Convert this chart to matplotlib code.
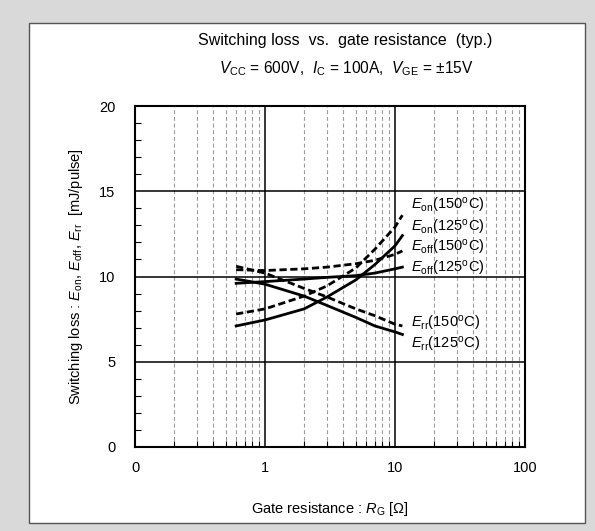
import matplotlib
matplotlib.use("Agg")
import matplotlib.pyplot as plt
from matplotlib.patches import Rectangle
from matplotlib.ticker import FixedLocator, NullFormatter
import numpy as np

plt.rcParams['font.family'] = ['Liberation Sans', 'DejaVu Sans']
plt.rcParams['mathtext.fontset'] = 'custom'
plt.rcParams['mathtext.rm'] = 'Liberation Sans'
plt.rcParams['mathtext.it'] = 'Liberation Sans:italic'
plt.rcParams['mathtext.bf'] = 'Liberation Sans:bold'

# ---- data ----
rg = [0.6, 1, 2, 3, 5, 7, 10, 11.4]
eon_150 = [7.8, 8.1, 8.85, 9.45, 10.5, 11.6, 12.9, 13.6]
eon_125 = [7.1, 7.45, 8.1, 8.8, 9.8, 10.7, 11.8, 12.4]
eoff_150 = [10.4, 10.35, 10.45, 10.55, 10.75, 10.95, 11.3, 11.5]
eoff_125 = [9.6, 9.7, 9.85, 9.95, 10.05, 10.2, 10.45, 10.55]
err_150 = [10.6, 10.2, 9.3, 8.8, 8.1, 7.7, 7.2, 7.1]
err_125 = [9.85, 9.55, 8.85, 8.3, 7.6, 7.1, 6.75, 6.6]

labels = [r"$\mathit{E}_{\mathrm{on}}$(150$^{\mathrm{o}}$C)",
          r"$\mathit{E}_{\mathrm{on}}$(125$^{\mathrm{o}}$C)",
          r"$\mathit{E}_{\mathrm{off}}$(150$^{\mathrm{o}}$C)",
          r"$\mathit{E}_{\mathrm{off}}$(125$^{\mathrm{o}}$C)",
          r"$\mathit{E}_{\mathrm{rr}}$(150$^{\mathrm{o}}$C)",
          r"$\mathit{E}_{\mathrm{rr}}$(125$^{\mathrm{o}}$C)"]
label_y = [14.15, 12.9, 11.7, 10.45, 7.25, 6.0]
label_x = 13.3

xticks = [0.1, 1, 10, 100]
xticklabels = ["0", "1", "10", "100"]
yticks = [0, 5, 10, 15, 20]

W, H = 595, 531
fig = plt.figure(figsize=(W / 100, H / 100), dpi=100, facecolor='#d9d9d9')
fig.patches.append(Rectangle((29 / W, 1 - 523 / H), (585 - 29) / W, (523 - 23) / H,
                             transform=fig.transFigure, facecolor='white',
                             edgecolor='#555555', lw=1.0, zorder=-5))

ax = fig.add_axes([135 / W, 1 - 447 / H, (525 - 135) / W, (447 - 106) / H])
ax.set_facecolor('none')
ax.set_xscale('log')
ax.set_xlim(0.1, 100)
ax.set_ylim(0, 20)

minor_x = [m * d for d in (0.1, 1, 10) for m in range(2, 10)]
for xv in minor_x:
    ax.axvline(xv, color='#9a9a9a', lw=0.8, ls=(0, (3.5, 2.5)), zorder=1)
for xv in [1, 10]:
    ax.axvline(xv, color='black', lw=1.1, zorder=2)
for yv in [5, 10, 15]:
    ax.axhline(yv, color='black', lw=1.1, zorder=2)

dash = (0, (2.6, 1.3))
kw = dict(color='black', lw=2.0, zorder=3)
ax.plot(rg, eon_150, ls=dash, **kw)
ax.plot(rg, eon_125, ls='-', **kw)
ax.plot(rg, eoff_150, ls=dash, **kw)
ax.plot(rg, eoff_125, ls='-', **kw)
ax.plot(rg, err_150, ls=dash, **kw)
ax.plot(rg, err_125, ls='-', **kw)

for t, yv in zip(labels, label_y):
    ax.text(label_x, yv, t, fontsize=10.5, va='center', ha='left', zorder=4)

ax.xaxis.set_major_locator(FixedLocator(xticks))
ax.set_xticklabels(xticklabels, fontsize=10.5)
ax.xaxis.set_minor_locator(FixedLocator(minor_x))
ax.xaxis.set_minor_formatter(NullFormatter())
ax.set_yticks(yticks)
ax.set_yticklabels([str(v) for v in yticks], fontsize=10.5)
ax.yaxis.set_minor_locator(FixedLocator(list(range(0, 21))))
ax.tick_params(which='both', direction='in', top=False, right=False)
ax.tick_params(which='major', length=0, pad=10)
ax.tick_params(which='minor', length=4, width=0.8)
ax.tick_params(axis='y', which='major', pad=14)
for s in ax.spines.values():
    s.set_linewidth(1.5)

ax.set_xlabel(r"Gate resistance : $\mathit{R}_{\mathrm{G}}$ [$\mathrm{\Omega}$]", fontsize=10.5, labelpad=18)
ax.set_ylabel(r"Switching loss : $\mathit{E}_{\mathrm{on}}$, $\mathit{E}_{\mathrm{off}}$, $\mathit{E}_{\mathrm{rr}}$  [mJ/pulse]",
              fontsize=10.5, labelpad=10)

fig.text(345 / W, 1 - 40 / H, "Switching loss  vs.  gate resistance  (typ.)", fontsize=11.5,
         ha='center', va='center')
fig.text(346 / W, 1 - 69 / H,
         r"$\mathit{V}_{\mathrm{CC}}$ = 600V,  $\mathit{I}_{\mathrm{C}}$ = 100A,  $\mathit{V}_{\mathrm{GE}}$ = $\pm$15V",
         fontsize=11.2, ha='center', va='center')

fig.savefig("out.png", dpi=100, facecolor=fig.get_facecolor())
